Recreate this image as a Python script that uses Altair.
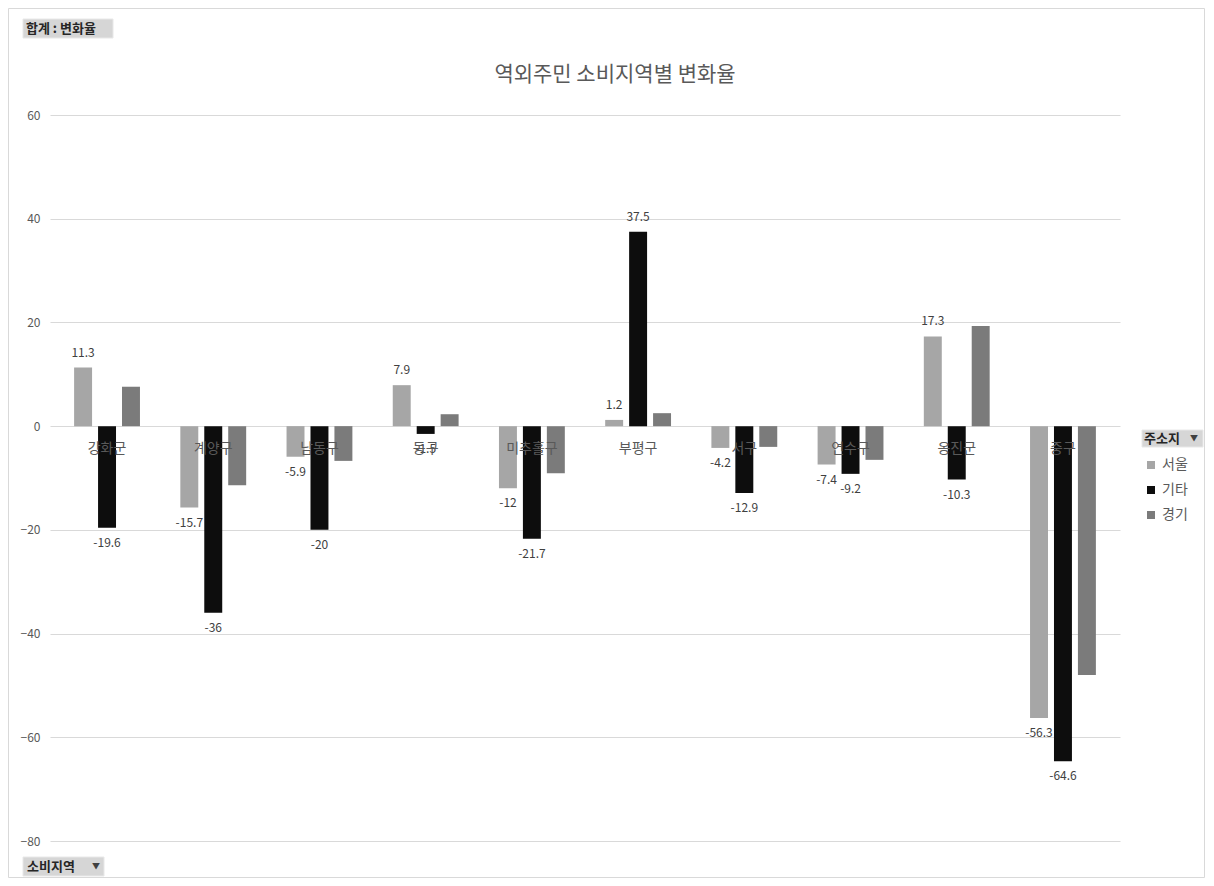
import altair as alt
import pandas as pd

regions = ["강화군", "계양구", "남동구", "동구", "미추홀구", "부평구", "서구", "연수구", "옹진군", "중구"]
series = ["서울", "기타", "경기"]
seoul = [11.3, -15.7, -5.9, 7.9, -12, 1.2, -4.2, -7.4, 17.3, -56.3]
gita = [-19.6, -36, -20, -1.5, -21.7, 37.5, -12.9, -9.2, -10.3, -64.6]
gyeonggi = [7.6, -11.4, -6.7, 2.3, -9.1, 2.5, -4.0, -6.5, 19.3, -48.0]
colors = ["#a6a6a6", "#0d0d0d", "#7b7b7b"]
y_ticks = [-80, -60, -40, -20, 0, 20, 40, 60]

FONT = "Noto Sans CJK KR"
W, H = 1070, 726
PAD = {"left": 42, "top": 107, "right": 86, "bottom": 37}

rows = []
for s, vals in zip(series, [seoul, gita, gyeonggi]):
    for r, v in zip(regions, vals):
        rows.append({"region": r, "series": s, "value": v,
                     "label": f"{v:g}" if s in ("서울", "기타") else ""})
df = pd.DataFrame(rows)

x_enc = alt.X("region:N", sort=regions, axis=None,
              scale=alt.Scale(paddingInner=0.38, paddingOuter=0.227))
xo_enc = alt.XOffset("series:N", sort=series,
                     scale=alt.Scale(paddingInner=0.25, paddingOuter=0))
y_enc = alt.Y("value:Q", scale=alt.Scale(domain=[-80, 60], nice=False),
              axis=alt.Axis(values=y_ticks, title=None, domain=False, ticks=False,
                            labelColor="#595959", labelFontSize=12, labelPadding=10,
                            gridColor="#d9d9d9", labelFont=FONT))

base = alt.Chart(df)

bars = base.mark_bar().encode(
    x=x_enc, xOffset=xo_enc, y=y_enc,
    color=alt.Color("series:N", sort=series,
                    scale=alt.Scale(domain=series, range=colors),
                    legend=alt.Legend(title=None, orient="none", legendX=1094, legendY=343,
                                      symbolType="square", symbolSize=64,
                                      labelFontSize=14, labelColor="#595959", labelFont=FONT,
                                      rowPadding=11, labelOffset=4)),
)

pos_labels = base.transform_filter("datum.label != '' && datum.value >= 0").mark_text(
    baseline="bottom", dy=-8, fontSize=12, color="#404040", font=FONT
).encode(x=x_enc, xOffset=xo_enc, y="value:Q", text="label:N")

neg_labels = base.transform_filter("datum.label != '' && datum.value < 0").mark_text(
    baseline="top", dy=10, fontSize=12, color="#404040", font=FONT
).encode(x=x_enc, xOffset=xo_enc, y="value:Q", text="label:N")

cat_df = pd.DataFrame({"region": regions})
cat_labels = alt.Chart(cat_df).mark_text(
    baseline="middle", dy=23, fontSize=14, color="#595959", font=FONT
).encode(x=alt.X("region:N", sort=regions, axis=None), y=alt.datum(0), text="region:N")

one = pd.DataFrame({"a": [0]})


def txt(x, y, s, size=13, color="#262626", align="left", weight="normal"):
    return alt.Chart(one).mark_text(fontSize=size, color=color, font=FONT, align=align,
                                    baseline="middle", fontWeight=weight).encode(
        x=alt.value(x), y=alt.value(y), text=alt.value(s))


def box(x1, x2, y1, y2):
    return alt.Chart(one).mark_rect(fill="#d6d6d6", stroke="#e8e8e8").encode(
        x=alt.value(x1), x2=alt.value(x2), y=alt.value(y1), y2=alt.value(y2))


frame = alt.Chart(one).mark_rect(fill=None, stroke="#d9d9d9", strokeWidth=1).encode(
    x=alt.value(-41.5), x2=alt.value(1154.5), y=alt.value(-106.5), y2=alt.value(762.5))

title = txt(565, -40, "역외주민 소비지역별 변화율", size=21, color="#595959", align="center")

layers = [
    frame,
    box(-27, 63, -96, -77), txt(-24, -86.5, "합계 : 변화율", weight="bold"),
    box(-27, 54, 742, 761), txt(-23, 751.5, "소비지역", weight="bold"),
    txt(42, 751.5, "▼", size=8, color="#404040"),
    box(1092, 1153, 315, 332), txt(1094, 323.5, "주소지", weight="bold"),
    txt(1140, 323.5, "▼", size=8, color="#404040"),
    title,
    bars, pos_labels, neg_labels, cat_labels,
]

chart = alt.layer(*layers).properties(
    width=W, height=H, padding=PAD, background="white",
    autosize=alt.AutoSizeParams(type="none")
).configure_view(strokeWidth=0, stroke=None)

chart.save("out.html", embed_options={"renderer": "svg", "actions": False})
